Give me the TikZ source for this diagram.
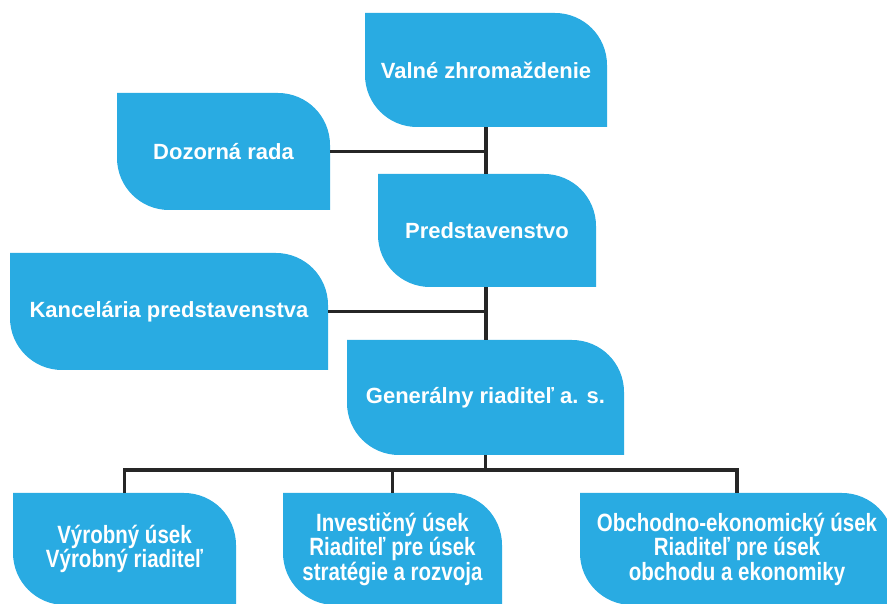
\documentclass[tikz,border=0pt]{standalone}
\usepackage{fontspec}
\setmainfont{Liberation Sans}
\newfontfamily\narrowsf{Liberation Sans}[FakeStretch=0.82]
\usepackage{tikz}
\definecolor{unitblue}{RGB}{41, 171, 226}
\definecolor{wire}{RGB}{38, 38, 38}

\begin{document}
\begin{tikzpicture}[x=1pt, y=1pt,
  unit/.style={rectangle, inner sep=0pt, align=center, text=white,
    font=\bfseries\fontsize{22}{26}\selectfont,
    path picture={
      \fill[unitblue] (path picture bounding box.north west)
        -- ([xshift=-52pt]path picture bounding box.north east)
        arc[start angle=90, end angle=0, radius=52pt]
        -- (path picture bounding box.south east)
        -- ([xshift=52pt]path picture bounding box.south west)
        arc[start angle=270, end angle=180, radius=52pt]
        -- cycle;}},
  lowunit/.style={unit, font=\narrowsf\bfseries\fontsize{25}{24.5}\selectfont},
  link/.style={draw=wire, line width=3.8pt}]
  \useasboundingbox (0, 0) rectangle (887, 604);

  % top of the company
  \node[unit, minimum width=242, minimum height=114] (valne) at (486, 534) {Valné zhromaždenie};
  \node[unit, minimum width=213, minimum height=117] (dozor) at (223.5, 452.5) {Dozorná rada};
  \node[unit, minimum width=218, minimum height=113] (pred) at (487, 373.5) {Predstavenstvo};
  \node[unit, minimum width=318, minimum height=117] (kanc) at (169, 292.5) {Kancelária predstavenstva};
  \node[unit, minimum width=277, minimum height=115] (gen) at (485.5, 206.5) {Generálny riaditeľ a. s.};

  % the three divisions
  \node[lowunit, minimum width=223, minimum height=112] (vyr) at (124.5, 55) {Výrobný úsek\\Výrobný riaditeľ};
  \node[lowunit, minimum width=219, minimum height=112] (inv) at (392.5, 55) {Investičný úsek\\Riaditeľ pre úsek\\stratégie a rozvoja};
  \node[lowunit, minimum width=314, minimum height=112] (obch) at (737, 55) {Obchodno-ekonomický úsek\\Riaditeľ pre úsek\\obchodu a ekonomiky};

  \draw[link] (valne.south) -- (valne.south |- pred.north);
  \draw[link] (dozor.east) -- (dozor.east -| valne.south);
  \draw[link] (valne.south |- pred.south) -- (valne.south |- gen.north);
  \draw[link] (kanc.east) -- (kanc.east -| valne.south);

  \coordinate (bus) at ([yshift=-15]gen.south);
  \draw[link] (gen.south) -- (bus);
  \draw[link] (vyr.north) |- (bus) -| (obch.north);
  \draw[link] (inv.north) -- (inv.north |- bus);
\end{tikzpicture}
\end{document}
